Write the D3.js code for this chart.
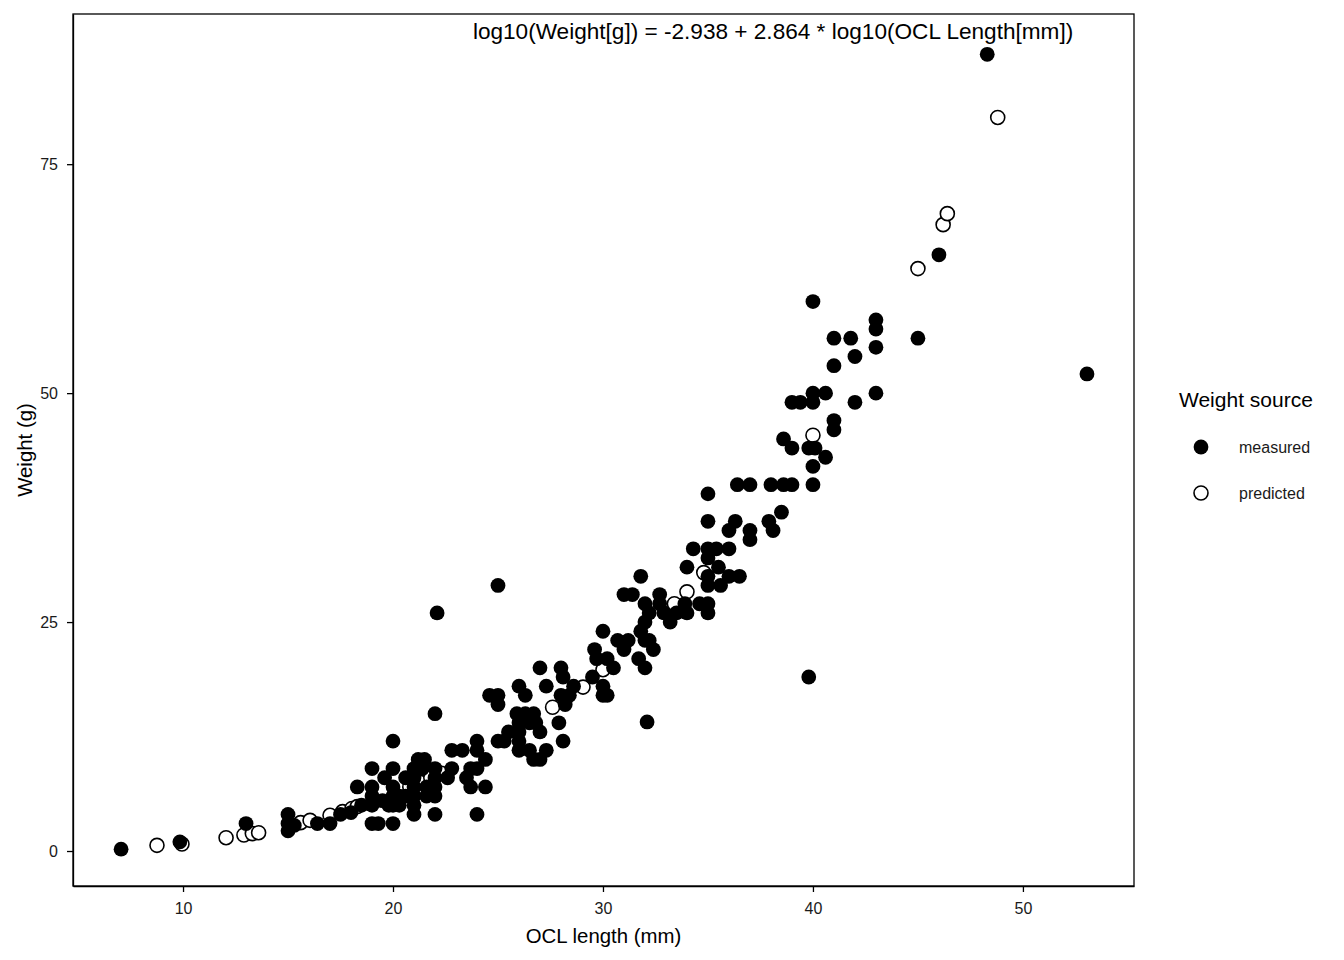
<!DOCTYPE html>
<html>
<head>
<meta charset="utf-8">
<script src="https://cdn.jsdelivr.net/npm/d3@7/dist/d3.min.js"></script>
<style>
  html, body { margin: 0; padding: 0; background: #fff; }
  svg { display: block; font-family: "Liberation Sans", Arial, sans-serif; }
</style>
</head>
<body>
<svg id="chart" width="1344" height="960"></svg>
<script>
// ---- data ----
const measured = [
  [7.05,0.2],[9.85,1.0],[13.0,3.0],[15,4],[15,3],[15,2.2],[15.3,2.8],[16.4,3],[17,3],[17.5,4],
  [18,4.2],[18.3,7],[18.5,5],[19,9],[19,7],[19,6],[19,5],[19,3],[19.3,3],[19.5,5.5],
  [19.6,8],[19.8,5],[20,12],[20,9],[20,7],[20,6],[20,5],[20,3],[20.3,6],[20.3,5],
  [20.6,8],[20.6,6],[21,9],[21,8],[21,7],[21,6],[21,5],[21,4],[21.2,10],[21.4,9],
  [21.5,10],[21.6,7],[21.6,6],[22.1,26],[22,15],[22,9],[22,8],[22,7],[22,6],[22,4],
  [22.6,8],[22.8,9],[22.8,11],[23.3,11],[23.5,8],[23.7,9],[23.7,7],[24,12],[24,11],[24,9],
  [24,4],[24.4,10],[24.4,7],[24.6,17],[25,29],[25,17],[25,16],[25,12],[25.3,12],[25.5,13],
  [25.9,15],[26,18],[26,14],[26,13],[26,12],[26,11],[26.3,17],[26.3,15],[26.5,14],[26.5,11],
  [26.7,15],[26.7,10],[26.8,14],[27,20],[27,13],[27,10],[27.3,18],[27.3,11],[27.9,14],[28,20],
  [28,17],[28.1,19],[28.1,12],[28.2,16],[28.4,17],[28.6,18],[29.5,19],[29.6,22],[29.7,21],[30,24],
  [30,18],[30,17],[30.2,21],[30.2,17],[30.5,20],[30.7,23],[31,28],[31,22],[31.2,23],[31.4,28],
  [31.7,21],[31.8,30],[31.8,24],[32,27],[32,25],[32,23],[32,20],[32.1,14.1],[32.2,26],[32.2,23],
  [32.4,22],[32.7,28],[32.7,27],[32.9,26],[33.2,25],[33.5,26],[33.9,27],[34,31],[34,26],[34.3,33],
  [34.6,27],[35,39],[35,36],[35,33],[35,32],[35,30],[35,29],[35,27],[35,26],[35.4,33],
  [35.5,31],[35.6,29],[36,35],[36,33],[36,30],[36.3,36],[36.4,40],[36.5,30],[37,40],[37,35],
  [37,34],[37.9,36],[38,40],[38.1,35],[38.5,37],[38.6,45],[38.6,40],[39,49],[39,44],[39,40],
  [39.4,49],[39.8,19],[39.8,44],[40,60],[40,50],[40,49],[40,42],[40,40],[40.1,44],[40.6,50],
  [40.6,43],[41,56],[41,53],[41,47],[41,46],[41.8,56],[42,54],[42,49],[43,58],[43,57],
  [43,55],[43,50],[45,56],[46,65.1],[48.3,87],[53.05,52.1]
];
const predicted = [
  [8.76,0.62],[9.95,0.76],[12.05,1.45],[12.9,1.75],[13.3,1.9],[13.6,2.0],[15.6,3.1],[16.05,3.35],
  [17,3.9],[17.6,4.3],[18.05,4.65],[18.3,4.85],[20.8,7.0],[21.3,7.5],[21.8,8.0],[22.3,8.5],
  [27.6,15.7],[29.05,17.9],[30,19.8],[33.4,27],[34,28.3],[34.8,30.4],[40,45.4],[45,63.6],
  [46.2,68.4],[46.4,69.6],[48.8,80.1]
];
const xTicks = [10, 20, 30, 40, 50];
const yTicks = [0, 25, 50, 75];
const legendLabels = ["measured", "predicted"];
const equation = "log10(Weight[g]) = -2.938 + 2.864 * log10(OCL Length[mm])";
const xTitle = "OCL length (mm)";
const yTitle = "Weight (g)";
const legendTitle = "Weight source";

// ---- layout ----
const svg = d3.select("#chart");
const P = { left: 73, right: 1134, top: 14, bottom: 886 };

const x = d3.scaleLinear().domain([4.76, 55.29]).range([P.left, P.right]);
const y = d3.scaleLinear().domain([-3.82, 91.4]).range([P.bottom, P.top]);

const textColor = "#1a1a1a";

// panel border
svg.append("rect")
  .attr("x", P.left).attr("y", P.top)
  .attr("width", P.right - P.left).attr("height", P.bottom - P.top)
  .attr("fill", "none").attr("stroke", "#000").attr("stroke-width", 1.3);

// axes
const xAxis = svg.append("g").attr("transform", `translate(0,${P.bottom})`)
  .call(d3.axisBottom(x).tickValues(xTicks).tickSizeInner(6).tickSizeOuter(0).tickPadding(11).tickFormat(d3.format("d")));
const yAxis = svg.append("g").attr("transform", `translate(${P.left},0)`)
  .call(d3.axisLeft(y).tickValues(yTicks).tickSizeInner(6).tickSizeOuter(0).tickPadding(9).tickFormat(d3.format("d")));
[xAxis, yAxis].forEach(g => {
  g.select(".domain").attr("stroke", "#000").attr("stroke-width", 1.3);
  g.selectAll(".tick line").attr("stroke", "#000").attr("stroke-width", 1.3);
  g.selectAll(".tick text").attr("fill", textColor).style("font-size", "16px")
    .style("font-family", "'Liberation Sans', Arial, sans-serif");
});

// points: predicted first, measured on top
const pts = svg.append("g");
pts.selectAll("circle.pred").data(predicted).join("circle")
  .attr("class", "pred")
  .attr("cx", d => x(d[0])).attr("cy", d => y(d[1]))
  .attr("r", 7).attr("fill", "#fff").attr("stroke", "#000").attr("stroke-width", 1.6);
pts.selectAll("circle.meas").data(measured).join("circle")
  .attr("class", "meas")
  .attr("cx", d => x(d[0])).attr("cy", d => y(d[1]))
  .attr("r", 7.4).attr("fill", "#000");

// equation annotation
svg.append("text")
  .attr("x", x(38.1)).attr("y", 39)
  .attr("text-anchor", "middle")
  .attr("fill", "#000").style("font-size", "22.6px")
  .text(equation);

// axis titles
svg.append("text")
  .attr("x", (P.left + P.right) / 2).attr("y", 943)
  .attr("text-anchor", "middle").attr("fill", "#000").style("font-size", "20.4px")
  .text(xTitle);
svg.append("text")
  .attr("transform", `translate(32,${(P.top + P.bottom) / 2}) rotate(-90)`)
  .attr("text-anchor", "middle").attr("fill", "#000").style("font-size", "20.4px")
  .text(yTitle);

// legend
const lg = svg.append("g");
lg.append("text").attr("x", 1179).attr("y", 407).attr("fill", "#000")
  .style("font-size", "21px").text(legendTitle);
const legendY = [447, 493];
legendLabels.forEach((lab, i) => {
  if (i === 0) {
    lg.append("circle").attr("cx", 1201).attr("cy", legendY[i]).attr("r", 7.4).attr("fill", "#000");
  } else {
    lg.append("circle").attr("cx", 1201).attr("cy", legendY[i]).attr("r", 7)
      .attr("fill", "#fff").attr("stroke", "#000").attr("stroke-width", 1.6);
  }
  lg.append("text").attr("x", 1239).attr("y", legendY[i] + 6).attr("fill", textColor)
    .style("font-size", "16px").text(lab);
});
</script>
</body>
</html>
